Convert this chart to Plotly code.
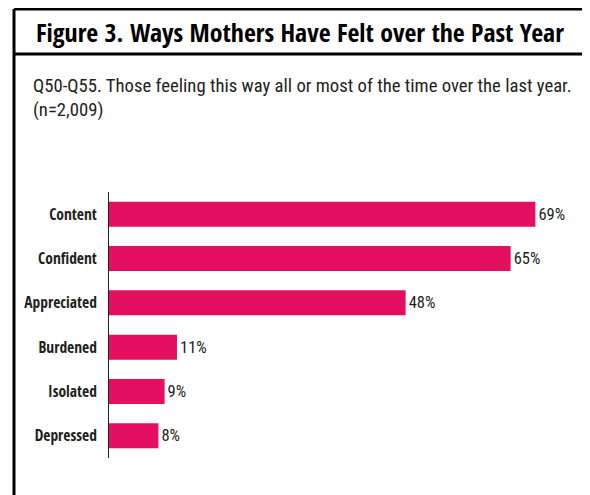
import plotly.graph_objects as go

# the page body adds an 8px offset, so the figure is 8px smaller than the window
W, H = 582, 487
OFF = 8
ML, MR, MT, MB = 101, 20, 184, 37

feelings = ["Content", "Confident", "Appreciated", "Burdened", "Isolated", "Depressed"]
percents = [69, 65, 48, 11, 9, 8]
labels = [f"{p}%" for p in percents]

title_text = "Figure 3. Ways Mothers Have Felt over the Past Year"
subtitle_text = "Q50-Q55. Those feeling this way all or most of the time over the last year.<br>(n=2,009)"

BAR = "#e50f62"
INK = "#231f20"
BOLD_FONT = "Open Sans Condensed, Roboto Condensed, Liberation Sans Narrow, sans-serif"
FONT = "Roboto Condensed, Open Sans Condensed, Liberation Sans Narrow, sans-serif"

pw = W - ML - MR
ph = H - MT - MB


def px(x):
    # page pixel -> paper x
    return (x - OFF - ML) / pw


def py(y):
    # page pixel -> paper y
    return (H - MB - (y - OFF)) / ph


fig = go.Figure(
    go.Bar(
        x=percents,
        y=feelings,
        orientation="h",
        marker=dict(color=BAR, line=dict(width=0)),
        text=labels,
        textposition="outside",
        textfont=dict(family=FONT, size=16.5, color=INK),
        cliponaxis=False,
        hoverinfo="skip",
    )
)

fig.update_layout(
    width=W,
    height=H,
    margin=dict(l=ML, r=MR, t=MT, b=MB, autoexpand=False),
    paper_bgcolor="white",
    plot_bgcolor="white",
    showlegend=False,
    bargap=0.435,
    font=dict(family=FONT, color=INK),
)
fig.update_xaxes(range=[0, 74.6], visible=False, automargin=False)
fig.update_yaxes(
    autorange="reversed",
    automargin=False,
    showline=True,
    linecolor=INK,
    linewidth=1,
    showgrid=False,
    zeroline=False,
    ticks="",
    ticklabelstandoff=8,
    tickfont=dict(family=BOLD_FONT, size=15.5, color=INK, weight="bold"),
)

# frame around the figure
line = dict(color="black", width=3)
fig.add_shape(type="line", xref="paper", yref="paper",
              x0=px(14), x1=px(14), y0=py(9), y1=py(500), line=line)
fig.add_shape(type="line", xref="paper", yref="paper",
              x0=px(586), x1=px(586), y0=py(9), y1=py(500), line=line)
fig.add_shape(type="line", xref="paper", yref="paper",
              x0=px(14), x1=px(586), y0=py(9), y1=py(9), line=line)
fig.add_shape(type="line", xref="paper", yref="paper",
              x0=px(14), x1=px(586), y0=py(54), y1=py(54), line=line)

fig.add_annotation(
    text=title_text, xref="paper", yref="paper",
    x=px(300), y=py(32), xanchor="center", yanchor="middle",
    showarrow=False,
    font=dict(family=BOLD_FONT, size=25.8, color="black", weight="bold"),
)
fig.add_annotation(
    text=subtitle_text, xref="paper", yref="paper",
    x=px(31), y=py(73), xanchor="left", yanchor="top", align="left",
    showarrow=False,
    font=dict(family=FONT, size=18.7, color=INK),
)

fig.write_html("out.html")
